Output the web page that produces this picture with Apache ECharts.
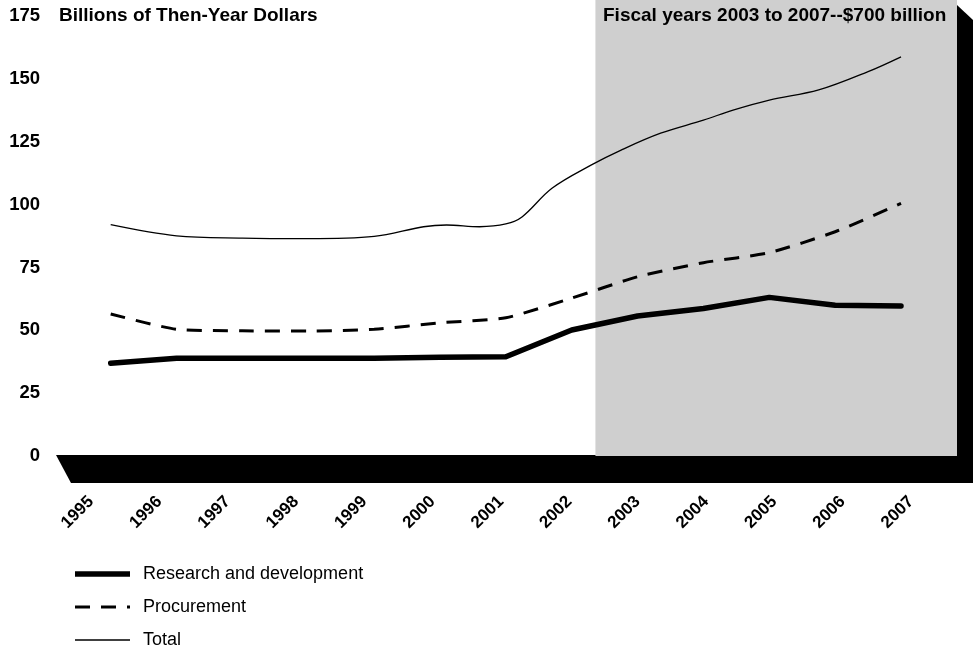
<!DOCTYPE html>
<html>
<head>
<meta charset="utf-8">
<script src="https://cdn.jsdelivr.net/npm/echarts@6/dist/echarts.min.js"></script>
<style>
html,body{margin:0;padding:0;background:#fff;}
#chart{width:973px;height:648px;}
</style>
</head>
<body>
<div id="chart"></div>
<script>
// ---- data ----
const years = ['1995','1996','1997','1998','1999','2000','2001','2002','2003','2004','2005','2006','2007'];
const yearNums = [1995,1996,1997,1998,1999,2000,2001,2002,2003,2004,2005,2006,2007];
const rdValues   = [36.9, 38.9, 38.9, 38.9, 38.9, 39.3, 39.5, 50.1, 55.7, 58.7, 63.1, 60.0, 59.7];
const procValues = [56.5, 50.4, 49.8, 49.7, 50.4, 53.0, 55.0, 62.8, 71.3, 76.9, 80.9, 89.2, 100.5];
const totalYears  = [1995, 1996, 1997, 1998, 1999, 1999.75, 2000.1, 2000.6, 2001, 2001.25, 2001.7, 2002.3, 2002.75, 2003.35, 2004, 2004.45, 2005, 2005.75, 2006.5, 2007];
const totalValues = [92.0, 87.6, 86.7, 86.5, 87.4, 91.2, 91.9, 91.2, 92.3, 95.2, 106.5, 115.8, 121.7, 128.4, 133.6, 137.6, 141.6, 145.6, 152.9, 158.8];
const yTicks = [0, 25, 50, 75, 100, 125, 150, 175];
const seriesNames = ['Research and development', 'Procurement', 'Total'];
const shadeStart = 2002.36;
const yTitle = 'Billions of Then-Year Dollars';
const shadeTitle = 'Fiscal years 2003 to 2007--$700 billion';

// ---- layout ----
const FONT = '"Liberation Sans", Arial, Helvetica, sans-serif';
const xMin = 1994.2, xMax = 2007.85;
const yMax = 181.4;

const pair = (xs, vs) => xs.map((x, i) => [x, vs[i]]);

const chart = echarts.init(document.getElementById('chart'), null, {renderer: 'canvas'});
const option = {
  animation: false,
  backgroundColor: '#fff',
  textStyle: {fontFamily: FONT},
  title: [
    {text: yTitle, left: 59, top: 6, padding: 0,
     textStyle: {fontFamily: FONT, fontSize: 19, fontWeight: 'bold', color: '#000'}},
    {text: shadeTitle, left: 603, top: 6, padding: 0,
     textStyle: {fontFamily: FONT, fontSize: 19, fontWeight: 'bold', color: '#000'}}
  ],
  grid: [
    {left: 58, right: 16, top: 0, bottom: 192},
    {left: 91, right: 62, top: 490, height: 1}
  ],
  xAxis: [
    {type: 'value', gridIndex: 0, min: xMin, max: xMax, show: false},
    {type: 'category', gridIndex: 1, data: years, boundaryGap: false,
     axisLine: {show: false}, axisTick: {show: false}, splitLine: {show: false},
     axisLabel: {rotate: 45, margin: 8, interval: 0, fontFamily: FONT, fontSize: 17,
                 fontWeight: 'bold', color: '#000'}}
  ],
  yAxis: [
    {type: 'value', gridIndex: 0, min: 0, max: yMax, interval: 25,
     axisLine: {show: false}, axisTick: {show: false}, splitLine: {show: false},
     axisLabel: {margin: 18, fontFamily: FONT, fontSize: 18.5, fontWeight: 'bold', color: '#000',
                 showMaxLabel: false,
                 formatter: v => (yTicks.indexOf(Math.round(v)) >= 0 && Math.abs(v - Math.round(v)) < 1e-6) ? String(Math.round(v)) : ''}},
    {type: 'value', gridIndex: 1, show: false}
  ],
  series: [
    {
      name: 'shade', type: 'line', xAxisIndex: 0, yAxisIndex: 0, data: [], silent: true,
      markArea: {silent: true, itemStyle: {color: '#cfcfcf'},
                 data: [[{xAxis: shadeStart, yAxis: 0}, {xAxis: xMax, yAxis: yMax}]]},
      z: 1
    },
    {
      name: seriesNames[2], type: 'line', data: pair(totalYears, totalValues),
      symbol: 'none', smooth: 0.35, lineStyle: {color: '#000', width: 1.3}, z: 3
    },
    {
      name: seriesNames[1], type: 'line', data: pair(yearNums, procValues),
      symbol: 'none', smooth: 0.2, lineStyle: {color: '#000', width: 3, type: [15, 11]}, z: 3
    },
    {
      name: seriesNames[0], type: 'line', data: pair(yearNums, rdValues),
      symbol: 'none', smooth: false, lineStyle: {color: '#000', width: 5.5, cap: 'round', join: 'round'}, z: 4
    },
    {
      name: 'labels', type: 'line', xAxisIndex: 1, yAxisIndex: 1, data: [], silent: true
    }
  ]
};
chart.setOption(option);

// decorative 3-D floor and wall, anchored to the axis scale
const zeroY = chart.convertToPixel({yAxisIndex: 0}, 0);
const leftX = chart.convertToPixel({xAxisIndex: 0}, xMin);
const rightX = chart.convertToPixel({xAxisIndex: 0}, xMax);
const W = 973;
const depth = 27;

const legendRows = [
  {name: seriesNames[0], style: {stroke: '#000', lineWidth: 5.5, lineCap: 'butt'}},
  {name: seriesNames[1], style: {stroke: '#000', lineWidth: 3, lineDash: [15, 11]}},
  {name: seriesNames[2], style: {stroke: '#000', lineWidth: 1.3}}
];
const legendX = 75, legendTop = 574, legendGap = 33, legendLen = 55;

const graphics = [
  {type: 'polygon', z: 0, silent: true,
   shape: {points: [[leftX - 2, zeroY - 1], [W, zeroY - 1], [W, zeroY + depth], [leftX + 13, zeroY + depth]]},
   style: {fill: '#000'}},
  {type: 'polygon', z: 0, silent: true,
   shape: {points: [[rightX, 5], [W, 20], [W, zeroY + depth], [rightX, zeroY + depth]]},
   style: {fill: '#000'}}
];
legendRows.forEach((r, i) => {
  const y = legendTop + i * legendGap;
  graphics.push({type: 'line', silent: true, shape: {x1: legendX, y1: y, x2: legendX + legendLen, y2: y}, style: r.style});
  graphics.push({type: 'text', silent: true, x: legendX + 68, y: y,
    style: {text: r.name, fontFamily: FONT, fontSize: 18, fill: '#000', textVerticalAlign: 'middle', textAlign: 'left'}});
});
chart.setOption({graphic: graphics});
</script>
</body>
</html>
